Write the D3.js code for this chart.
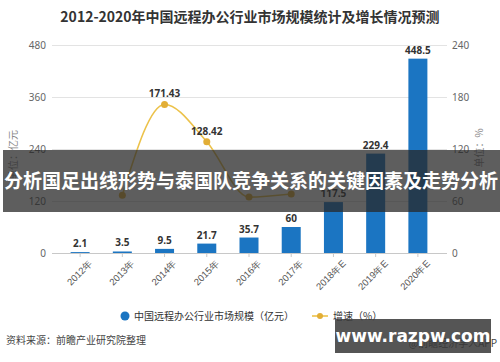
<!DOCTYPE html>
<html>
<head>
<meta charset="utf-8">
<script src="https://cdn.jsdelivr.net/npm/d3@7"></script>
<style>
  body { margin: 0; background: #fff; }
  svg { display: block; font-family: "Noto Sans CJK SC", "Noto Sans", sans-serif; }
</style>
</head>
<body>
<svg id="chart" width="500" height="362"></svg>
<script>
var years = ["2012年", "2013年", "2014年", "2015年", "2016年", "2017年", "2018年E", "2019年E", "2020年E"]
var market = [2.1, 3.5, 9.5, 21.7, 35.7, 60, 117.5, 229.4, 448.5]
var growthYears = ["2013年", "2014年", "2015年", "2016年", "2017年"]
var growth = [66.67, 171.43, 128.42, 64.52, 68.07]
var leftTicks = [0, 120, 240, 360, 480]
var rightTicks = [0, 60, 120, 180, 240]

var svg = d3.select("#chart")

var x = d3.scaleBand()
    .domain(years)
    .range([59, 439])
    .paddingInner(0.55)
    .paddingOuter(0.275)

var yL = d3.scaleLinear().domain([0, 480]).range([253, 45])
var yR = d3.scaleLinear().domain([0, 240]).range([253, 45])

// banner band (the overlay strip)
var bannerTop = 150, bannerBottom = 212

// title
svg.append("text")
    .attr("x", 250).attr("y", 22)
    .attr("text-anchor", "middle")
    .attr("font-size", 14).attr("font-weight", "bold")
    .attr("fill", "#333")
    .text("2012-2020年中国远程办公行业市场规模统计及增长情况预测")

// grid lines
svg.append("g").selectAll("line")
    .data(leftTicks.slice(1))
    .enter().append("line")
    .attr("x1", 52).attr("x2", 447)
    .attr("y1", function(d) { return yL(d) + 0.5 })
    .attr("y2", function(d) { return yL(d) + 0.5 })
    .attr("stroke", "#e3e3e3")

// left axis labels
var axL = svg.append("g")
    .attr("transform", "translate(52,0)")
    .call(d3.axisLeft(yL).tickValues(leftTicks).tickSize(0).tickPadding(6))
axL.select(".domain").remove()
axL.selectAll("text").attr("fill", "#666").attr("font-size", 10)
    .style("font-family", "'Noto Sans', sans-serif")

// right axis labels
var axR = svg.append("g")
    .attr("transform", "translate(447,0)")
    .call(d3.axisRight(yR).tickValues(rightTicks).tickSize(0).tickPadding(5))
axR.select(".domain").remove()
axR.selectAll("text").attr("fill", "#666").attr("font-size", 10)
    .style("font-family", "'Noto Sans', sans-serif")

// axis titles
svg.append("text")
    .attr("transform", "translate(17,155) rotate(-90)")
    .attr("text-anchor", "middle")
    .attr("font-size", 10).attr("fill", "#888")
    .text("单位：亿元")
svg.append("text")
    .attr("transform", "translate(483,148) rotate(-90)")
    .attr("text-anchor", "middle")
    .attr("font-size", 10).attr("fill", "#888")
    .text("单位：%")

// bars
svg.append("g").selectAll("rect")
    .data(market)
    .enter().append("rect")
    .attr("x", function(d, i) { return x(years[i]) })
    .attr("width", x.bandwidth())
    .attr("y", function(d) { return yL(d) })
    .attr("height", function(d) { return yL(0) - yL(d) })
    .attr("fill", "#1b75c2")

// x axis
var axX = svg.append("g")
    .attr("transform", "translate(0,253)")
    .call(d3.axisBottom(x).tickSize(4).tickSizeOuter(0))
axX.select(".domain").attr("d", "M52,0.5H447").attr("stroke", "#c8c8c8")
axX.selectAll(".tick line").attr("stroke", "#c8c8c8")
axX.selectAll("text")
    .attr("fill", "#555").attr("font-size", 9.5)
    .attr("text-anchor", "end")
    .attr("transform", "translate(6,4) rotate(-45)")
    .attr("dy", "0.3em")

// bar labels
svg.append("g").selectAll("text")
    .data(market)
    .enter().append("text")
    .attr("x", function(d, i) { return x(years[i]) + x.bandwidth() / 2 })
    .attr("y", function(d) { return yL(d) - 5 })
    .attr("text-anchor", "middle")
    .attr("font-size", 10).attr("font-weight", "bold")
    .attr("fill", "#333")
    .style("font-family", "'Noto Sans', sans-serif")
    .text(function(d) { return d })

// growth line
var cx = function(d, i) { return x(growthYears[i]) + x.bandwidth() / 2 }
var line = d3.line()
    .x(cx)
    .y(function(d) { return yR(d) })
    .curve(d3.curveMonotoneX)

svg.append("path")
    .datum(growth)
    .attr("d", line)
    .attr("fill", "none")
    .attr("stroke", "#ecc24a")
    .attr("stroke-width", 1.6)

svg.append("g").selectAll("circle")
    .data(growth)
    .enter().append("circle")
    .attr("cx", cx)
    .attr("cy", function(d) { return yR(d) })
    .attr("r", 3.5)
    .attr("fill", "#e2ae36")

// labels that would sit under the overlay strip are hidden in the source
svg.append("g").selectAll("text")
    .data(growth)
    .enter().append("text")
    .filter(function(d) { return yR(d) - 7 < bannerTop })
    .attr("x", function(d) { return x(growthYears[growth.indexOf(d)]) + x.bandwidth() / 2 })
    .attr("y", function(d) { return yR(d) - 7 })
    .attr("text-anchor", "middle")
    .attr("font-size", 10).attr("font-weight", "bold")
    .attr("fill", "#333")
    .style("font-family", "'Noto Sans', sans-serif")
    .text(function(d) { return d.toFixed(2) })

// legend
svg.append("circle").attr("cx", 125).attr("cy", 316).attr("r", 4.5).attr("fill", "#1b75c2")
svg.append("text").attr("x", 134).attr("y", 319.5)
    .attr("font-size", 10).attr("fill", "#333")
    .text("中国远程办公行业市场规模（亿元）")
svg.append("line").attr("x1", 312).attr("x2", 328).attr("y1", 316).attr("y2", 316)
    .attr("stroke", "#ecc24a").attr("stroke-width", 1.6)
svg.append("circle").attr("cx", 320).attr("cy", 316).attr("r", 3).attr("fill", "#e2ae36")
svg.append("text").attr("x", 333).attr("y", 319.5)
    .attr("font-size", 10).attr("fill", "#333")
    .text("增速（%）")

// footer
svg.append("text").attr("x", 6).attr("y", 344)
    .attr("font-size", 10).attr("fill", "#444")
    .text("资料来源：前瞻产业研究院整理")
svg.append("text").attr("x", 497).attr("y", 347)
    .attr("text-anchor", "end")
    .attr("font-size", 10).attr("fill", "#444")
    .text("@前瞻经济学人APP")

// overlay banner
svg.append("rect").attr("x", 3).attr("y", bannerTop).attr("width", 497).attr("height", bannerBottom - bannerTop)
    .attr("fill", "rgba(40,40,40,0.75)")
svg.append("text").attr("x", 251).attr("y", 188)
    .attr("text-anchor", "middle")
    .attr("font-size", 19).attr("font-weight", "bold")
    .attr("fill", "#fff")
    .text("分析国足出线形势与泰国队竞争关系的关键因素及走势分析")

svg.append("rect").attr("x", 335).attr("y", 319).attr("width", 156).attr("height", 34)
    .attr("fill", "rgba(55,55,55,0.85)")
svg.append("text").attr("x", 413).attr("y", 342)
    .attr("text-anchor", "middle")
    .attr("font-size", 17).attr("font-weight", "bold")
    .attr("fill", "#fff")
    .style("font-family", "'DejaVu Sans', sans-serif")
    .text("www.razpw.com")
</script>
</body>
</html>
